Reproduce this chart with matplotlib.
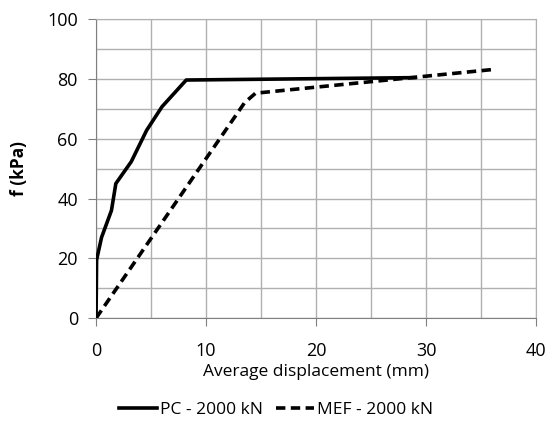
import matplotlib.pyplot as plt
from matplotlib.ticker import MultipleLocator

plt.rcParams['font.family'] = ['Open Sans', 'DejaVu Sans']

# PC - 2000 kN (load test curve)
pc_disp = [0.0, 0.05, 0.5, 1.4, 1.8, 3.2, 4.6, 6.0, 8.2, 29.0]
pc_f = [0.0, 19.5, 27.0, 36.0, 45.0, 52.3, 62.8, 70.7, 79.6, 80.4]

# MEF - 2000 kN (numerical model)
mef_disp = [0.0, 13.5, 14.5, 36.3]
mef_f = [0.0, 72.0, 75.2, 83.2]

fig = plt.figure(figsize=(5.52, 4.22), dpi=100)
ax = fig.add_axes([0.174, 0.246, 0.797, 0.709])

ax.plot(pc_disp, pc_f, color='black', lw=2.6, label='PC - 2000 kN', zorder=3)
ax.plot(mef_disp, mef_f, color='black', lw=2.6, ls=(0, (2.6, 1.5)), label='MEF - 2000 kN', zorder=3)

ax.set_xlim(0, 40)
ax.set_ylim(0, 100)
ax.xaxis.set_major_locator(MultipleLocator(10))
ax.xaxis.set_minor_locator(MultipleLocator(5))
ax.yaxis.set_major_locator(MultipleLocator(20))
ax.yaxis.set_minor_locator(MultipleLocator(10))
ax.grid(which='both', color='#b0b0b0', lw=1.0)
ax.set_axisbelow(True)

for s in ['top', 'right']:
    ax.spines[s].set_color('#b0b0b0')
for s in ['left', 'bottom']:
    ax.spines[s].set_color('#808080')
ax.tick_params(which='major', length=6, color='#808080', labelsize=13)
ax.tick_params(axis='x', pad=11)
ax.tick_params(axis='y', pad=7)
ax.tick_params(which='minor', length=0)

ax.set_xlabel('Average displacement (mm)', fontsize=12.5, labelpad=3)
ax.set_ylabel('f (kPa)', fontsize=12.5, fontweight='bold', labelpad=14)

fig.legend(loc='lower center', bbox_to_anchor=(0.5, -0.028), ncol=2, frameon=False,
           fontsize=12.5, handlelength=2.2, handletextpad=0.2, columnspacing=0.7)

fig.savefig('out.png', dpi=100)
